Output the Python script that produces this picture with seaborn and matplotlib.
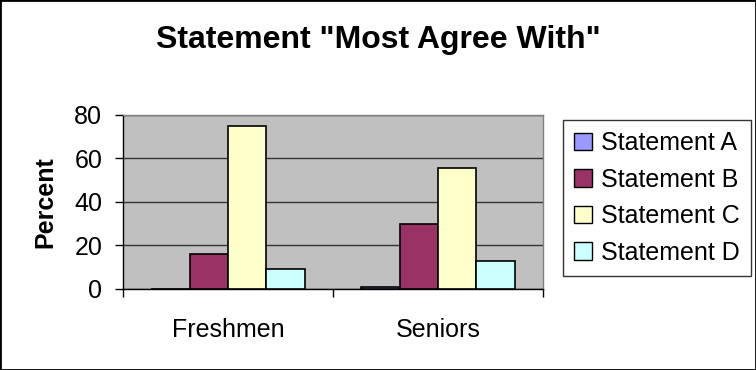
import matplotlib
matplotlib.use("Agg")
import matplotlib.pyplot as plt
import seaborn as sns
import pandas as pd
from matplotlib.patches import Rectangle, Patch

groups = ["Freshmen", "Seniors"]
statements = ["Statement A", "Statement B", "Statement C", "Statement D"]
freshmen_vals = [0, 16, 75, 9]
seniors_vals = [1, 30, 55.5, 13]
colors = ["#9999FF", "#993366", "#FFFFCC", "#CCFFFF"]
yticks = [0, 20, 40, 60, 80]

rows = []
for g, vals in zip(groups, [freshmen_vals, seniors_vals]):
    for s, v in zip(statements, vals):
        rows.append({"Group": g, "Statement": s, "Percent": v})
df = pd.DataFrame(rows)

sns.set_theme(style="white")
plt.rcParams["font.family"] = ["Liberation Sans", "DejaVu Sans"]
plt.rcParams["text.color"] = "black"
plt.rcParams["axes.labelcolor"] = "black"
plt.rcParams["xtick.color"] = "black"
plt.rcParams["ytick.color"] = "black"

fig = plt.figure(figsize=(7.56, 3.70), dpi=100)
ax = fig.add_axes([123/756, 1-289/370, 420/756, (289-114.7)/370])
ax.set_facecolor("#C0C0C0")

sns.barplot(data=df, x="Group", y="Percent", hue="Statement",
            order=groups, hue_order=statements, palette=colors,
            width=0.73, gap=0, edgecolor="black", linewidth=1.2,
            saturation=1, errorbar=None, legend=False, ax=ax, zorder=3)

ax.set_xlim(-0.5, 1.5)
ax.set_ylim(0, 80)
ax.set_yticks(yticks)
ax.set_yticklabels([str(t) for t in yticks], fontsize=18)
ax.yaxis.grid(True, color="#333333", linewidth=1)
ax.set_axisbelow(True)
ax.tick_params(axis="y", direction="out", length=6, width=1, color="black",
               labelcolor="black", left=True, pad=9)
ax.set_xticks(range(len(groups)))
ax.set_xticklabels(groups, fontsize=18)
ax.set_xticks([-0.5, 0.5, 1.5], minor=True)
ax.tick_params(axis="x", which="major", length=0, pad=21, labelcolor="black")
ax.tick_params(axis="x", which="minor", direction="out", length=6, width=1, color="black", bottom=True)
ax.set_xlabel("")
ax.set_ylabel("Percent", fontsize=18, fontweight="bold", labelpad=12, color="black")
for sp in ["left", "bottom"]:
    ax.spines[sp].set_color("black")
    ax.spines[sp].set_linewidth(1)
for sp in ["top", "right"]:
    ax.spines[sp].set_color("#808080")
    ax.spines[sp].set_linewidth(1)

fig.text(0.5, 1-48/370, 'Statement "Most Agree With"', ha="center", va="baseline",
         fontsize=23, fontweight="bold", color="black")

handles = [Patch(facecolor=c, edgecolor="black", linewidth=1) for c in colors]
leg = fig.legend(handles, statements, loc="upper left",
                 bbox_to_anchor=(563/756, 1-120/370), fontsize=18,
                 frameon=True, fancybox=False, edgecolor="black",
                 handlelength=0.72, handleheight=0.72, handletextpad=0.36,
                 labelspacing=0.5, borderpad=0.45, borderaxespad=0,
                 labelcolor="black")
leg.get_frame().set_linewidth(1)

fig.patches.append(Rectangle((0, 0), 1, 1, transform=fig.transFigure,
                             fill=False, edgecolor="black", linewidth=2))

fig.savefig("out.png", dpi=100, facecolor="white")
